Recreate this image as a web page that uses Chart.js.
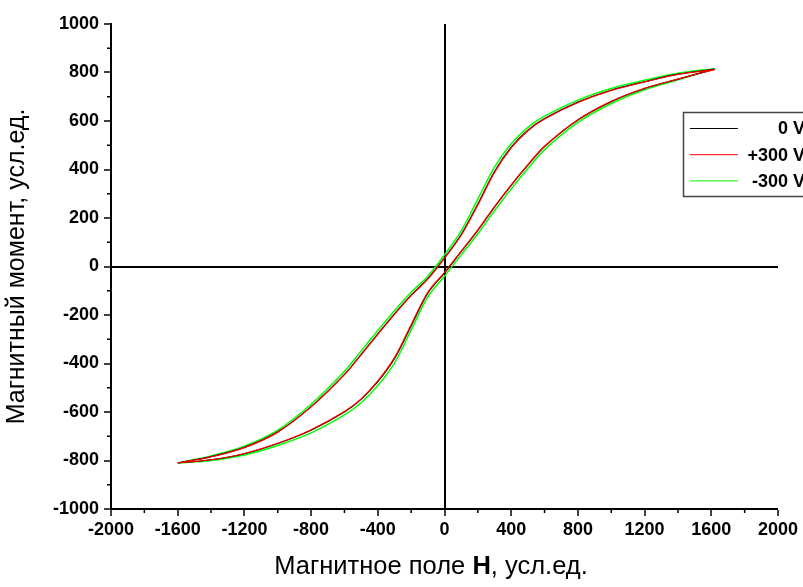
<!DOCTYPE html>
<html>
<head>
<meta charset="utf-8">
<script src="https://cdn.jsdelivr.net/npm/chart.js@4.4.1/dist/chart.umd.min.js"></script>
<style>
  html, body { margin: 0; padding: 0; background: #fff; }
  #wrap { width: 803px; height: 587px; position: relative; }
</style>
</head>
<body>
<div id="wrap"><canvas id="loopChart"></canvas></div>
<script>
// поле H, верхняя ветвь (от +H к -H) и нижняя ветвь (от -H к +H)
const fieldUp   = [1620, 1400, 1200, 1000, 800, 600, 500, 400, 300, 200, 100, 0, -100, -200, -300, -400, -500, -600, -800, -1000, -1200, -1400, -1600];
const fieldDown = [-1600, -1400, -1200, -1000, -800, -600, -500, -400, -300, -200, -100, 0, 100, 200, 300, 400, 500, 600, 800, 1000, 1200, 1400, 1620];

// магнитный момент, 0 V
const m0Up   = [814, 793, 762, 727, 678, 610, 562, 492, 392, 258, 132, 36, -50, -118, -195, -278, -362, -445, -578, -682, -746, -784, -810];
const m0Down = [-810, -797, -772, -730, -675, -600, -548, -475, -380, -245, -110, -27, 61, 149, 245, 335, 418, 495, 604, 680, 734, 773, 814];
// +300 V
const mPlusUp   = [812, 792, 761, 726, 676, 608, 560, 489, 388, 254, 129, 34, -52, -120, -197, -280, -364, -446, -579, -683, -747, -785, -810];
const mPlusDown = [-810, -797, -771, -729, -673, -598, -546, -472, -376, -240, -106, -24, 63, 151, 247, 337, 420, 496, 605, 681, 735, 773, 812];
// -300 V
const mMinusUp   = [816, 797, 768, 734, 686, 620, 574, 506, 410, 278, 147, 48, -40, -106, -182, -264, -348, -432, -568, -675, -741, -781, -810];
const mMinusDown = [-810, -800, -777, -738, -686, -612, -562, -491, -398, -262, -125, -40, 48, 135, 230, 320, 404, 482, 594, 672, 729, 770, 816];

const seriesNames = ['0 V', '+300 V', '-300 V'];
const seriesColors = ['#000000', '#ff0000', '#00ff00'];

const xTicksStep = 400;
const yTicksStep = 200;

function toLoop(mUp, mDown) {
  const up = fieldUp.map((h, i) => ({ x: h, y: mUp[i] }));
  const down = fieldDown.map((h, i) => ({ x: h, y: mDown[i] }));
  return up.concat(down);
}

const FONT = 'Liberation Sans, Arial, sans-serif';

// маленькие промежуточные риски
const minorTicks = {
  id: 'minorTicks',
  afterDraw(chart) {
    const ctx = chart.ctx;
    const xs = chart.scales.x, ys = chart.scales.y;
    ctx.save();
    ctx.strokeStyle = '#000';
    ctx.lineWidth = 1.5;
    ctx.beginPath();
    for (let v = -1800; v < 2000; v += 400) {
      const px = xs.getPixelForValue(v);
      ctx.moveTo(px, ys.bottom);
      ctx.lineTo(px, ys.bottom + 4);
    }
    for (let v = -900; v < 1000; v += 200) {
      const py = ys.getPixelForValue(v);
      ctx.moveTo(xs.left, py);
      ctx.lineTo(xs.left - 4, py);
    }
    ctx.stroke();
    ctx.restore();
  }
};

// подпись оси X с жирной H
const xTitle = {
  id: 'xTitle',
  afterDraw(chart) {
    const ctx = chart.ctx;
    const parts = [['Магнитное поле ', 'normal'], ['H', 'bold'], [', усл.ед.', 'normal']];
    ctx.save();
    ctx.fillStyle = '#000';
    ctx.textBaseline = 'middle';
    let total = 0;
    parts.forEach(p => { ctx.font = p[1] + ' 25.5px ' + FONT; total += ctx.measureText(p[0]).width; });
    let x = 431 - total / 2;
    parts.forEach(p => {
      ctx.font = p[1] + ' 25.5px ' + FONT;
      ctx.fillText(p[0], x, 567);
      x += ctx.measureText(p[0]).width;
    });
    ctx.restore();
  }
};

// легенда в рамке справа
const boxLegend = {
  id: 'boxLegend',
  afterDraw(chart) {
    const ctx = chart.ctx;
    ctx.save();
    ctx.strokeStyle = '#444';
    ctx.lineWidth = 1.5;
    ctx.strokeRect(683.5, 112.5, 140, 84);
    ctx.font = 'bold 18px ' + FONT;
    ctx.textAlign = 'right';
    ctx.textBaseline = 'middle';
    chart.data.datasets.forEach((ds, i) => {
      const y = 128.5 + i * 26.2;
      ctx.strokeStyle = ds.borderColor;
      ctx.lineWidth = 1;
      ctx.beginPath();
      ctx.moveTo(690, y);
      ctx.lineTo(738, y);
      ctx.stroke();
      ctx.fillStyle = '#000';
      ctx.fillText(ds.label, 805, y + 1);
    });
    ctx.restore();
  }
};

const zeroColor = ctx => (ctx.tick && ctx.tick.value === 0) ? '#000' : 'rgba(0,0,0,0)';
const zeroWidth = ctx => (ctx.tick && ctx.tick.value === 0) ? 2 : 0;

new Chart(document.getElementById('loopChart'), {
  type: 'scatter',
  data: {
    datasets: [
      { label: seriesNames[0], data: toLoop(m0Up, m0Down), borderColor: seriesColors[0], borderWidth: 1.2, order: 1 },
      { label: seriesNames[1], data: toLoop(mPlusUp, mPlusDown), borderColor: seriesColors[1], borderWidth: 1.2, order: 0 },
      { label: seriesNames[2], data: toLoop(mMinusUp, mMinusDown), borderColor: seriesColors[2], borderWidth: 1.5, order: 2 }
    ]
  },
  options: {
    responsive: true,
    maintainAspectRatio: false,
    animation: false,
    showLine: true,
    elements: {
      point: { radius: 0 },
      line: { tension: 0.35, fill: false }
    },
    layout: { padding: { top: 24, right: 25, left: 0, bottom: 0 } },
    plugins: {
      legend: { display: false },
      tooltip: { enabled: false }
    },
    scales: {
      x: {
        type: 'linear',
        min: -2000,
        max: 2000,
        afterFit: scale => { scale.height = 78; },
        ticks: { stepSize: xTicksStep, color: '#000', padding: 3, callback: v => String(v), font: { family: FONT, size: 18, weight: 'bold' }, maxRotation: 0 },
        grid: { color: zeroColor, lineWidth: zeroWidth, drawTicks: true, tickLength: 7, tickColor: '#000', tickWidth: 1.5 },
        border: { display: true, color: '#000', width: 2 }
      },
      y: {
        type: 'linear',
        min: -1000,
        max: 1000,
        afterFit: scale => { scale.width = 111; },
        ticks: { stepSize: yTicksStep, color: '#000', padding: 5, callback: v => String(v), font: { family: FONT, size: 18, weight: 'bold' } },
        grid: { color: zeroColor, lineWidth: zeroWidth, drawTicks: true, tickLength: 7, tickColor: '#000', tickWidth: 1.5 },
        border: { display: true, color: '#000', width: 2 },
        title: { display: true, text: 'Магнитный момент, усл.ед.', color: '#000', padding: { top: 2, bottom: 4 }, font: { family: FONT, size: 25 } }
      }
    }
  },
  plugins: [minorTicks, xTitle, boxLegend]
});
</script>
</body>
</html>
